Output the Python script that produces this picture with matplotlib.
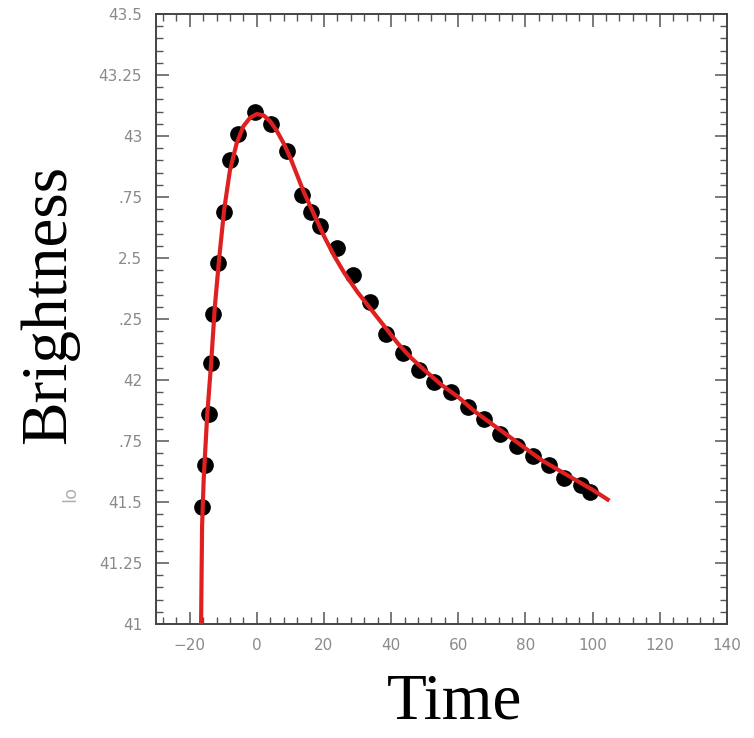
import matplotlib
matplotlib.use("Agg")
import matplotlib.pyplot as plt
from matplotlib.ticker import MultipleLocator, FixedLocator, FixedFormatter

# observed points
obs_t = [-16.3, -15.5, -14.3, -13.6, -13.0, -11.6, -9.9, -8.1, -5.6, -0.6,
         4.1, 8.9, 13.4, 16.1, 18.7, 23.8, 28.7, 33.6, 38.4, 43.4,
         48.2, 52.8, 57.8, 62.8, 67.8, 72.5, 77.4, 82.4, 87.0, 91.6,
         96.6, 99.1]
obs_b = [41.48, 41.65, 41.86, 42.07, 42.27, 42.48, 42.69, 42.90, 43.01, 43.10,
         43.05, 42.94, 42.76, 42.69, 42.63, 42.54, 42.43, 42.32, 42.19, 42.11,
         42.04, 41.99, 41.95, 41.89, 41.84, 41.78, 41.73, 41.69, 41.65, 41.60,
         41.57, 41.54]

# model curve
fit_t = [-16.6, -16.3, -15.8, -14.8, -13.6, -12.5, -11.2, -9.7, -8.0, -6.0,
         -4.0, -2.0, 0.0, 2.0, 4.0, 6.0, 8.0, 10.0, 12.0, 14.0,
         16.0, 18.0, 20.0, 23.0, 26.0, 30.0, 34.0, 38.0, 42.0, 46.0,
         50.0, 55.0, 60.0, 65.0, 70.0, 75.0, 80.0, 85.0, 90.0, 95.0,
         100.0, 104.5]
fit_b = [41.0, 41.4, 41.6, 41.85, 42.07, 42.3, 42.5, 42.7, 42.86, 42.97,
         43.04, 43.075, 43.09, 43.085, 43.06, 43.02, 42.97, 42.91, 42.84, 42.77,
         42.71, 42.65, 42.59, 42.51, 42.44, 42.36, 42.29, 42.22, 42.15, 42.09,
         42.04, 41.98, 41.93, 41.87, 41.82, 41.77, 41.72, 41.67, 41.63, 41.59,
         41.55, 41.51]

y_ticks = [41, 41.25, 41.5, 41.75, 42, 42.25, 42.5, 42.75, 43, 43.25, 43.5]
y_labels = ["41", "41.25", "41.5", ".75", "42", ".25", "2.5", ".75", "43", "43.25", "43.5"]
x_ticks = [-20, 0, 20, 40, 60, 80, 100, 120, 140]
x_labels = ["\u221220", "0", "20", "40", "60", "80", "100", "120", "140"]

fig = plt.figure(figsize=(7.54, 7.38), dpi=100)
ax = fig.add_axes([0.207, 0.1545, 0.757, 0.8265])

ax.plot(obs_t, obs_b, 'o', color='black', markersize=11, zorder=2)
ax.plot(fit_t, fit_b, '-', color='#e02020', linewidth=3, zorder=3)

ax.set_xlim(-30, 140)
ax.set_ylim(41, 43.5)

ax.xaxis.set_major_locator(FixedLocator(x_ticks))
ax.xaxis.set_major_formatter(FixedFormatter(x_labels))
ax.xaxis.set_minor_locator(MultipleLocator(4))
ax.yaxis.set_major_locator(FixedLocator(y_ticks))
ax.yaxis.set_major_formatter(FixedFormatter(y_labels))
ax.yaxis.set_minor_locator(MultipleLocator(0.05))

ax.tick_params(which='both', direction='in', top=True, right=True, color='#555555')
ax.tick_params(which='major', length=9, width=1.1, labelsize=11, labelcolor='#8a8a8a', pad=10)
ax.tick_params(which='minor', length=5, width=1.0)
for sp in ax.spines.values():
    sp.set_color('#444444')
    sp.set_linewidth(1.4)

fig.text(0.065, 0.588, "Brightness", rotation=90, ha='center', va='center',
         family='Liberation Serif', fontsize=47, color='black')
fig.text(0.603, 0.008, "Time", ha='center', va='bottom',
         family='Liberation Serif', fontsize=47, color='black')
fig.text(0.093, 0.331, "lo", rotation=90, ha='center', va='center',
         fontsize=13, color='#b0b0b0')

fig.savefig("out.png", dpi=100)
